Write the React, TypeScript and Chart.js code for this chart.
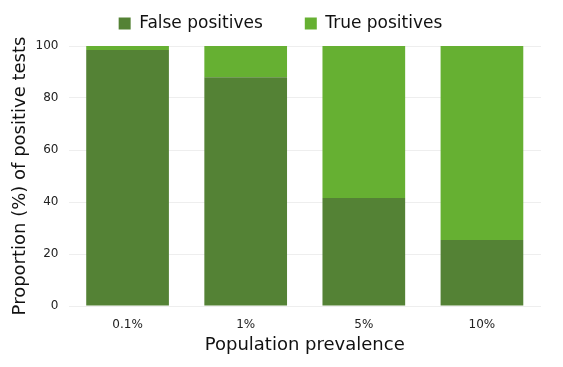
import React, { useEffect, useRef } from "react";
import { Chart, registerables } from "chart.js";

Chart.register(...registerables);

const categories = ["0.1%", "1%", "5%", "10%"];
const falsePositives = [98.5, 88, 41.5, 25.4];
const truePositives = [1.5, 12, 58.5, 74.6];
const yTicks = [0, 20, 40, 60, 80, 100];
const seriesNames = ["False positives", "True positives"];
const seriesColors = ["#548235", "#66b032"];

const FONT = "'DejaVu Sans', Verdana, sans-serif";

const legendShift = {
  id: "legendShift",
  afterLayout(c: any) {
    if (c.legend) {
      c.legend.left += 10;
      c.legend.right += 10;
    }
  },
};

export default function App() {
  const ref = useRef<HTMLCanvasElement | null>(null);
  useEffect(() => {
    document.body.style.margin = "0";
    const ctx = ref.current!;
    const chart = new Chart(ctx, {
      type: "bar",
      plugins: [legendShift],
      data: {
        labels: categories,
        datasets: [
          {
            label: seriesNames[0],
            data: falsePositives,
            backgroundColor: seriesColors[0],
            barPercentage: 0.7,
            categoryPercentage: 1,
          },
          {
            label: seriesNames[1],
            data: truePositives,
            backgroundColor: seriesColors[1],
            barPercentage: 0.7,
            categoryPercentage: 1,
          },
        ],
      },
      options: {
        responsive: false,
        animation: false,
        layout: { padding: { left: 0, right: 22, top: 0, bottom: 0 } },
        plugins: {
          tooltip: { enabled: false },
          legend: {
            position: "top",
            labels: {
              font: { family: FONT, size: 17 },
              color: "#111",
              boxWidth: 12,
              boxHeight: 12,
              padding: 15,
              generateLabels: (c: any) =>
                c.data.datasets.map((d: any, i: number) => ({
                  text: i === 0 ? d.label + "\u00a0\u00a0\u00a0\u00a0\u00a0" : d.label,
                  fillStyle: d.backgroundColor,
                  strokeStyle: d.backgroundColor,
                  lineWidth: 0,
                  hidden: false,
                  datasetIndex: i,
                  fontColor: "#111",
                })),
            },
          },
        },
        scales: {
          x: {
            stacked: true,
            grid: { display: false },
            border: { display: false },
            ticks: { font: { family: FONT, size: 12 }, color: "#222", padding: 4 },
            title: {
              display: true,
              text: "Population prevalence",
              font: { family: FONT, size: 18 },
              color: "#111",
              padding: { top: 2, bottom: 11 },
            },
            afterFit: (s: any) => {
              s.height = 61;
            },
          },
          spacer: {
            type: "category",
            position: "top",
            display: true,
            grid: { display: false },
            border: { display: false },
            ticks: { display: false },
            afterFit: (s: any) => {
              s.height = 4;
            },
          },
          y: {
            stacked: true,
            min: 0,
            max: 100,
            afterBuildTicks: (s: any) => {
              s.ticks = yTicks.map((v) => ({ value: v }));
            },
            grid: { color: "#eeeeee", drawTicks: false },
            border: { display: false },
            ticks: { font: { family: FONT, size: 12 }, color: "#222", padding: 10 },
            title: {
              display: true,
              text: "Proportion (%) of positive tests",
              font: { family: FONT, size: 18 },
              color: "#111",
              padding: { top: 10, bottom: 0 },
            },
            afterFit: (s: any) => {
              s.width = 68.5;
            },
          },
        },
      },
    });
    return () => chart.destroy();
  }, []);
  return <canvas ref={ref} width={563} height={367} />;
}
